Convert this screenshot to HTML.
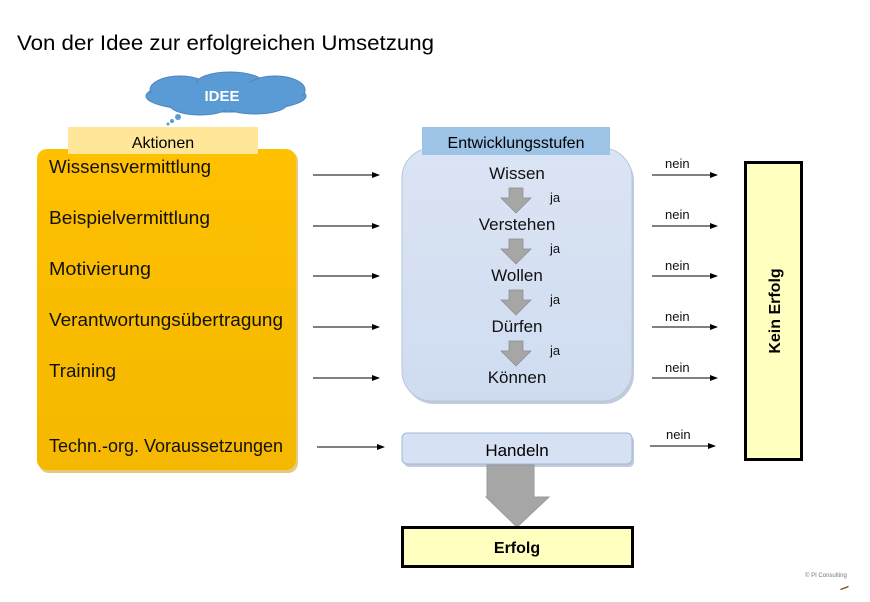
<!DOCTYPE html>
<html><head><meta charset="utf-8"><style>
html,body{margin:0;padding:0;background:#fff}
svg{display:block;font-family:"Liberation Sans",sans-serif}
</style></head><body>
<svg width="870" height="602" viewBox="0 0 870 602" xmlns="http://www.w3.org/2000/svg">
<defs>
<marker id="a" markerWidth="8" markerHeight="6" refX="7" refY="3" orient="auto" markerUnits="userSpaceOnUse"><path d="M0,0 L8,3 L0,6 z" fill="#000"/></marker>
<linearGradient id="og" x1="0" y1="0" x2="0" y2="1"><stop offset="0" stop-color="#ffc000"/><stop offset="1" stop-color="#f5b800"/></linearGradient>
<linearGradient id="bg" x1="0" y1="0" x2="0" y2="1"><stop offset="0" stop-color="#dbe4f4"/><stop offset="1" stop-color="#cfdcf0"/></linearGradient>
</defs>
<text x="17" y="50" font-size="21" fill="#000" textLength="417" lengthAdjust="spacingAndGlyphs">Von der Idee zur erfolgreichen Umsetzung</text>

<!-- cloud -->
<g fill="#5b9bd5" stroke="#4a86bf" stroke-width="1">
<ellipse cx="226" cy="96" rx="80" ry="16"/>
<ellipse cx="180" cy="90" rx="30" ry="14"/>
<ellipse cx="230" cy="84" rx="34" ry="12"/>
<ellipse cx="275" cy="90" rx="30" ry="14"/>
<ellipse cx="200" cy="105" rx="30" ry="10"/>
<ellipse cx="255" cy="104" rx="32" ry="10"/>
</g>
<ellipse cx="226" cy="96" rx="76" ry="14" fill="#5b9bd5"/>
<circle cx="178" cy="117" r="3" fill="#5b9bd5"/>
<circle cx="172" cy="121" r="2" fill="#5b9bd5"/>
<circle cx="168" cy="124" r="1.5" fill="#5b9bd5"/>
<text x="222" y="101" font-size="15" font-weight="bold" fill="#fff" text-anchor="middle">IDEE</text>

<!-- orange box -->
<rect x="39" y="151" width="259" height="322" rx="10" fill="#c99600" opacity="0.5"/>
<rect x="37" y="149" width="259" height="321" rx="10" fill="url(#og)"/>
<rect x="68" y="127" width="190" height="27" fill="#ffe699"/>
<text x="163" y="148" font-size="16" text-anchor="middle">Aktionen</text>
<g font-size="18" fill="#111" lengthAdjust="spacingAndGlyphs">
<text x="49" y="173" textLength="162" lengthAdjust="spacingAndGlyphs">Wissensvermittlung</text>
<text x="49" y="224" textLength="161" lengthAdjust="spacingAndGlyphs">Beispielvermittlung</text>
<text x="49" y="275" textLength="102" lengthAdjust="spacingAndGlyphs">Motivierung</text>
<text x="49" y="326" textLength="234" lengthAdjust="spacingAndGlyphs">Verantwortungsübertragung</text>
<text x="49" y="377" textLength="67" lengthAdjust="spacingAndGlyphs">Training</text>
<text x="49" y="452" textLength="234" lengthAdjust="spacingAndGlyphs">Techn.-org. Voraussetzungen</text>
</g>
<g stroke="#000" stroke-width="1" marker-end="url(#a)">
<line x1="313" y1="175" x2="379" y2="175"/>
<line x1="313" y1="226" x2="379" y2="226"/>
<line x1="313" y1="276" x2="379" y2="276"/>
<line x1="313" y1="327" x2="379" y2="327"/>
<line x1="313" y1="378" x2="379" y2="378"/>
<line x1="317" y1="447" x2="384" y2="447"/>
</g>

<!-- blue box -->
<rect x="404" y="151" width="230" height="253" rx="30" fill="#9aa8bf" opacity="0.6"/>
<rect x="402" y="148" width="230" height="253" rx="30" fill="url(#bg)" stroke="#b7c6df"/>
<rect x="422" y="127" width="188" height="28" fill="#9dc3e6"/>
<text x="516" y="148" font-size="16" text-anchor="middle">Entwicklungsstufen</text>
<g font-size="17" text-anchor="middle" fill="#111">
<text x="517" y="179">Wissen</text>
<text x="517" y="230">Verstehen</text>
<text x="517" y="281">Wollen</text>
<text x="517" y="332">Dürfen</text>
<text x="517" y="383">Können</text>
</g>
<g fill="#a6a6a6" stroke="#8a8a8a" stroke-width="0.7">
<path d="M509,188 h14 v10 h8 l-15,15 l-15,-15 h8 z"/>
<path d="M509,239 h14 v10 h8 l-15,15 l-15,-15 h8 z"/>
<path d="M509,290 h14 v10 h8 l-15,15 l-15,-15 h8 z"/>
<path d="M509,341 h14 v10 h8 l-15,15 l-15,-15 h8 z"/>
</g>
<g font-size="13" fill="#111">
<text x="550" y="202">ja</text>
<text x="550" y="253">ja</text>
<text x="550" y="304">ja</text>
<text x="550" y="355">ja</text>
</g>

<!-- nein -->
<g stroke="#000" stroke-width="1" marker-end="url(#a)">
<line x1="652" y1="175" x2="717" y2="175"/>
<line x1="652" y1="226" x2="717" y2="226"/>
<line x1="652" y1="276" x2="717" y2="276"/>
<line x1="652" y1="327" x2="717" y2="327"/>
<line x1="652" y1="378" x2="717" y2="378"/>
<line x1="650" y1="446" x2="715" y2="446"/>
</g>
<g font-size="13" fill="#111">
<text x="665" y="168">nein</text>
<text x="665" y="219">nein</text>
<text x="665" y="270">nein</text>
<text x="665" y="321">nein</text>
<text x="665" y="372">nein</text>
<text x="666" y="439">nein</text>
</g>

<!-- Kein Erfolg -->
<rect x="745.5" y="162.5" width="56" height="297" fill="#ffffc0" stroke="#000" stroke-width="3"/>
<text transform="translate(780,311) rotate(-90)" font-size="16" font-weight="bold" text-anchor="middle">Kein Erfolg</text>

<!-- Handeln -->
<rect x="404" y="436" width="230" height="31" rx="5" fill="#9aa8bf" opacity="0.6"/>
<rect x="402" y="433" width="230" height="31" rx="5" fill="#d6e1f3" stroke="#9fb6d8"/>
<text x="517" y="456" font-size="17" text-anchor="middle">Handeln</text>

<!-- big arrow -->
<path d="M487,465 h47 v32 h15 l-32,30 l-31,-30 h1 z" fill="#a6a6a6" stroke="#999"/>

<!-- Erfolg -->
<rect x="402.5" y="527.5" width="230" height="39" fill="#ffffc0" stroke="#000" stroke-width="3"/>
<text x="517" y="553" font-size="16" font-weight="bold" text-anchor="middle">Erfolg</text>

<text x="805" y="577" font-size="6" fill="#777">© PI Consulting</text>
<path d="M840,589 l8,-3 l1,1 l-8,3 z" fill="#6b4a1a"/>
</svg>
</body></html>
